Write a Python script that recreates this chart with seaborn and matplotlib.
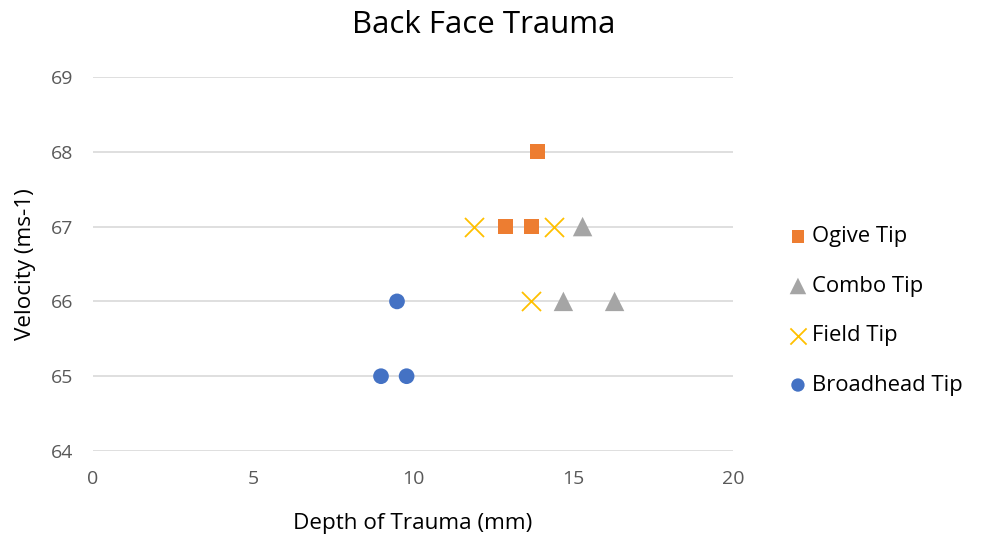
import matplotlib
matplotlib.use('Agg')
import matplotlib.pyplot as plt
import seaborn as sns
import numpy as np

# data
ogive_x = [13.9, 12.9, 13.7]
ogive_y = [68, 67, 67]
combo_x = [15.3, 14.7, 16.3]
combo_y = [67, 66, 66]
field_x = [11.9, 14.4, 13.7]
field_y = [67, 67, 66]
broad_x = [9.5, 9.0, 9.8]
broad_y = [66, 65, 65]

series = [
	('Ogive Tip', ogive_x, ogive_y, 's', '#ED7D31', 10.8),
	('Combo Tip', combo_x, combo_y, '^', '#A5A5A5', 14.0),
	('Field Tip', field_x, field_y, 'x', '#FFC000', 13.7),
	('Broadhead Tip', broad_x, broad_y, 'o', '#4472C4', 11.3),
]

sns.set_theme(style='white')
plt.rcParams['font.family'] = ['Open Sans', 'DejaVu Sans']
plt.rcParams['text.color'] = 'black'

fig = plt.figure(figsize=(9.84, 5.38), dpi=100)
ax = fig.add_axes([93/984, 1 - 451/538, 640/984, 374/538])

for name, xs, ys, mk, col, ms in series:
	if mk == 'x':
		sns.scatterplot(x=xs, y=ys, marker=mk, color=col, s=ms**2, linewidth=1.3,
			label=name, ax=ax, zorder=3)
	else:
		sns.scatterplot(x=xs, y=ys, marker=mk, color=col, s=ms**2, linewidth=0,
			edgecolor='none', label=name, ax=ax, zorder=3)

ax.set_xlim(0, 20)
ax.set_ylim(64, 69)
ax.set_xticks(np.arange(0, 21, 5))
ax.set_yticks(np.arange(64, 70, 1))
ax.grid(axis='y', color='#D9D9D9', linewidth=1.2)
ax.set_axisbelow(True)
for s in ax.spines.values():
	s.set_visible(False)
ax.tick_params(axis='y', colors='#595959', labelsize=14, length=0, pad=14)
ax.tick_params(axis='x', colors='#595959', labelsize=14, length=0, pad=14)

ax.set_xlabel('Depth of Trauma (mm)', fontsize=16.2, color='black', labelpad=18)
ax.set_ylabel('Velocity (ms-1)', fontsize=16.2, color='black', labelpad=11)
fig.suptitle('Back Face Trauma', fontsize=22.5, x=0.492, y=0.982)

ax.get_legend().remove()
h, l = ax.get_legend_handles_labels()
fig.legend(h, l, loc='center left', bbox_to_anchor=(776/984, 1 - 311/538), frameon=False,
	fontsize=15.8, labelspacing=1.3, handlelength=1.0, handletextpad=0.12,
	markerscale=0.85, borderpad=0)

fig.savefig('out.png', dpi=100)
plt.close(fig)
